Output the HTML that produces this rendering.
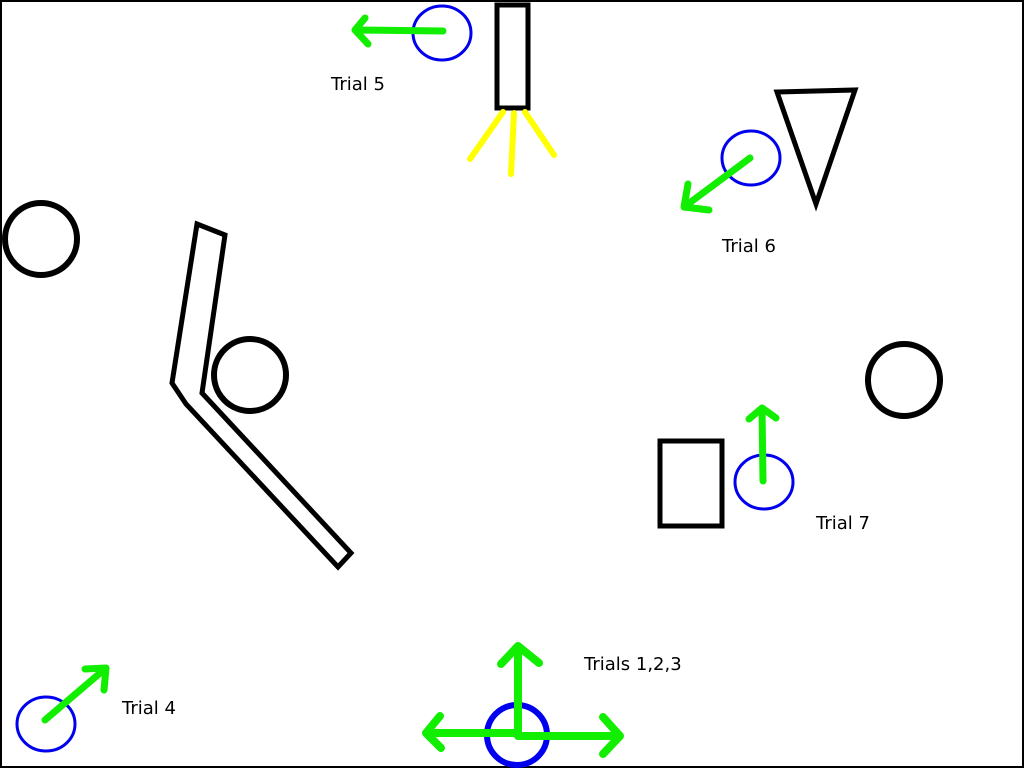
<!DOCTYPE html>
<html><head><meta charset="utf-8"><style>
html,body{margin:0;padding:0;background:#fff;width:1024px;height:768px;overflow:hidden}
svg{display:block}
text{font-family:"DejaVu Sans","Liberation Sans",sans-serif;font-size:18px;fill:#000}
</style></head><body>
<svg width="1024" height="768" viewBox="0 0 1024 768">
<rect x="1" y="1" width="1022" height="766" fill="#fff" stroke="#000" stroke-width="2"/>
<g fill="none" stroke="#000" stroke-width="6">
 <circle cx="41" cy="239" r="36"/>
 <circle cx="250" cy="375" r="36"/>
 <circle cx="904" cy="380" r="36"/>
 <rect x="497" y="5" width="31" height="103" stroke-width="5"/>
 <polygon points="777,92 855,90 816,204" stroke-width="5" stroke-linejoin="miter"/>
 <polygon points="197,224 225,235 202,393 351,553 338,567 186,404 172,383" stroke-width="5"/>
 <rect x="660" y="441" width="62" height="85" stroke-width="5"/>
</g>
<g stroke="#ffff00" stroke-width="6" stroke-linecap="round">
 <line x1="503" y1="112" x2="470" y2="159"/>
 <line x1="514" y1="113" x2="511" y2="174"/>
 <line x1="525" y1="112" x2="554" y2="155"/>
</g>
<g fill="none" stroke="#0000ee" stroke-width="3">
 <ellipse cx="442" cy="33" rx="29" ry="27"/>
 <ellipse cx="751" cy="158" rx="29" ry="27"/>
 <ellipse cx="764" cy="482" rx="29" ry="27"/>
 <ellipse cx="46" cy="724" rx="29" ry="27"/>
 <circle cx="517" cy="735" r="30" stroke-width="6"/>
</g>
<g fill="none" stroke="#11ee00" stroke-width="7" stroke-linecap="round" stroke-linejoin="round">
 <path d="M443,31 L355,30 M365,18 L355,30 L368,44"/>
 <path d="M750,158 L684,207 M688,184 L684,207 L709,210"/>
 <path d="M763,481 L762,408 M749,419 L762,408 L776,418"/>
 <path d="M45,720 L106,668 M85,669 L106,668 L104,690"/>
 <path d="M518,735 L518,646 M501,664 L518,646 L539,663" stroke-width="8"/>
 <path d="M517,733 L426,733 M440,716 L426,733 L441,748" stroke-width="8"/>
 <path d="M518,736 L620,736 M603,717 L620,736 L603,754" stroke-width="8"/>
</g>
<text x="331" y="90">Trial 5</text>
<text x="722" y="252">Trial 6</text>
<text x="816" y="529">Trial 7</text>
<text x="122" y="714">Trial 4</text>
<text x="584" y="670">Trials 1,2,3</text>
</svg>
</body></html>
